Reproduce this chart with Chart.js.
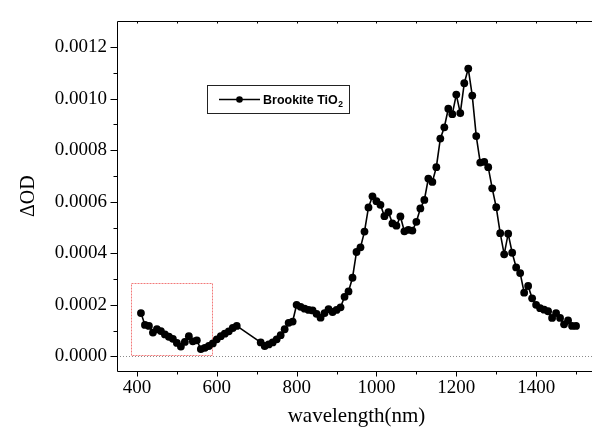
<!DOCTYPE html>
<html>
<head>
<meta charset="utf-8">
<script src="https://cdn.jsdelivr.net/npm/chart.js@4.4.1/dist/chart.umd.min.js"></script>
<style>
  html, body { margin: 0; padding: 0; background: #fff; overflow: hidden; }
  canvas { display: block; }
</style>
</head>
<body>
<canvas id="chart" width="600" height="439"></canvas>
<script>
// Transient absorption of brookite TiO2: wavelength (nm) vs. ΔOD
const wavelengths = [
  410, 420, 430, 440, 450, 460, 470, 480, 490, 500,
  510, 520, 530, 540, 550, 560, 570, 580, 590, 600,
  610, 620, 630, 640, 650,
  710, 720, 730, 740, 750, 760, 770, 780, 790, 800,
  810, 820, 830, 840, 850, 860, 870, 880, 890, 900,
  910, 920, 930, 940, 950, 960, 970, 980, 990, 1000,
  1010, 1020, 1030, 1040, 1050, 1060, 1070, 1080, 1090, 1100,
  1110, 1120, 1130, 1140, 1150, 1160, 1170, 1180, 1190, 1200,
  1210, 1220, 1230, 1240, 1250, 1260, 1270, 1280, 1290, 1300,
  1310, 1320, 1330, 1340, 1350, 1360, 1370, 1380, 1390, 1400,
  1410, 1420, 1430, 1440, 1450, 1460, 1470, 1480, 1490, 1500
];
const deltaOD = [
  0.000168, 0.000122, 0.000118, 0.000092, 0.000105, 0.000098, 0.000085, 0.000076, 0.000068, 0.000052,
  0.000038, 0.000056, 0.000078, 0.000058, 0.000062, 0.000028, 0.000033, 0.000040, 0.000050, 0.000066,
  0.000078, 0.000088, 0.000097, 0.000110, 0.000118,
  0.000054, 0.000040, 0.000046, 0.000054, 0.000066, 0.000082, 0.000105, 0.000130, 0.000135, 0.000200,
  0.000192, 0.000185, 0.000180, 0.000178, 0.000165, 0.000150, 0.000168, 0.000183, 0.000172, 0.000180,
  0.000190, 0.000231, 0.000252, 0.000305, 0.000405, 0.000423, 0.000484, 0.000578, 0.000621, 0.000602,
  0.000588, 0.000544, 0.000560, 0.000516, 0.000507, 0.000543, 0.000485, 0.000491, 0.000488, 0.000522,
  0.000574, 0.000607, 0.000690, 0.000677, 0.000734, 0.000845, 0.000889, 0.000961, 0.000940, 0.001016,
  0.000944, 0.001060, 0.001117, 0.001012, 0.000855, 0.000752, 0.000755, 0.000734, 0.000652, 0.000579,
  0.000478, 0.000396, 0.000476, 0.000402, 0.000345, 0.000323, 0.000247, 0.000273, 0.000225, 0.000200,
  0.000187, 0.000181, 0.000175, 0.000149, 0.000168, 0.000149, 0.000124, 0.000139, 0.000118, 0.000118
];

const xMajorTicks = [400, 600, 800, 1000, 1200, 1400];
const xMinorTicks = [500, 700, 900, 1100, 1300, 1500];
const yMajorTicks = [0, 0.0002, 0.0004, 0.0006, 0.0008, 0.0010, 0.0012];
const yMinorTicks = [0.0001, 0.0003, 0.0005, 0.0007, 0.0009, 0.0011];

const seriesName = 'Brookite TiO';
const seriesSubscript = '2';
const xTitle = 'wavelength(nm)';
const yTitle = '\u0394OD';

// Highlighted low-wavelength region (data coordinates)
const regionX = [386, 590];
const regionY = [0.0000065, 0.000285];

const SERIF = '"Liberation Serif", "Times New Roman", serif';
const SANS = '"Liberation Sans", Arial, sans-serif';

const framePlugin = {
  id: 'frame',
  beforeDatasetsDraw(chart) {
    const { ctx, chartArea: a, scales: { x, y } } = chart;
    ctx.save();
    // dotted zero baseline
    const y0 = Math.round(y.getPixelForValue(0)) + 0.5;
    ctx.strokeStyle = '#8a8a8a';
    ctx.lineWidth = 1;
    ctx.setLineDash([1, 2]);
    ctx.beginPath();
    ctx.moveTo(a.left, y0);
    ctx.lineTo(a.right, y0);
    ctx.stroke();
    // dotted red box around the visible-range data
    const rx0 = x.getPixelForValue(regionX[0]), rx1 = x.getPixelForValue(regionX[1]);
    const ry0 = y.getPixelForValue(regionY[0]), ry1 = y.getPixelForValue(regionY[1]);
    ctx.strokeStyle = '#f27a7a';
    ctx.setLineDash([2, 1]);
    ctx.strokeRect(Math.round(rx0) + 0.5, Math.round(ry1) + 0.5,
                   Math.round(rx1 - rx0), Math.round(ry0 - ry1));
    ctx.restore();
  },
  afterDraw(chart) {
    const { ctx, chartArea: a, scales: { x, y } } = chart;
    ctx.save();
    ctx.strokeStyle = '#000';
    ctx.lineWidth = 1;
    ctx.setLineDash([]);
    const L = Math.round(a.left) + 0.5, T = Math.round(a.top) + 0.5;
    const B = Math.round(a.bottom) + 0.5, R = Math.round(a.right) + 0.5;
    ctx.beginPath();
    ctx.moveTo(L, T); ctx.lineTo(R, T); ctx.lineTo(R, B); ctx.lineTo(L, B); ctx.closePath();
    ctx.stroke();
    ctx.beginPath();
    xMajorTicks.forEach(v => { const p = Math.round(x.getPixelForValue(v)) + 0.5;
      ctx.moveTo(p, B); ctx.lineTo(p, B + 5); ctx.moveTo(p, T); ctx.lineTo(p, T + 2); });
    xMinorTicks.forEach(v => { const p = Math.round(x.getPixelForValue(v)) + 0.5;
      ctx.moveTo(p, B); ctx.lineTo(p, B + 3); ctx.moveTo(p, T); ctx.lineTo(p, T + 2); });
    yMajorTicks.forEach(v => { const p = Math.round(y.getPixelForValue(v)) + 0.5;
      ctx.moveTo(L - 7, p); ctx.lineTo(L, p); });
    yMinorTicks.forEach(v => { const p = Math.round(y.getPixelForValue(v)) + 0.5;
      ctx.moveTo(L - 4, p); ctx.lineTo(L, p); });
    ctx.stroke();

    // legend box
    const bx = 207.5, by = 85.5, bw = 142, bh = 28;
    ctx.strokeStyle = '#222';
    ctx.strokeRect(bx, by, bw, bh);
    const ly = 99.5;
    ctx.strokeStyle = '#000';
    ctx.lineWidth = 1.5;
    ctx.beginPath(); ctx.moveTo(219, ly); ctx.lineTo(260, ly); ctx.stroke();
    ctx.fillStyle = '#000';
    ctx.beginPath(); ctx.arc(239.5, ly, 3.3, 0, Math.PI * 2); ctx.fill();
    ctx.font = 'bold 12.5px ' + SANS;
    ctx.textBaseline = 'alphabetic';
    ctx.textAlign = 'left';
    ctx.fillText(seriesName, 263, 104);
    const w = ctx.measureText(seriesName).width;
    ctx.font = 'bold 8.5px ' + SANS;
    ctx.fillText(seriesSubscript, 263 + w + 0.5, 107);
    ctx.restore();
  }
};

new Chart(document.getElementById('chart'), {
  type: 'line',
  data: {
    datasets: [{
      label: seriesName + seriesSubscript,
      data: wavelengths.map((w, i) => ({ x: w, y: deltaOD[i] })),
      borderColor: '#000',
      borderWidth: 1.6,
      pointRadius: 3.9,
      pointBackgroundColor: '#000',
      pointBorderWidth: 0,
      tension: 0,
      fill: false
    }]
  },
  options: {
    responsive: false,
    animation: false,
    events: [],
    layout: { padding: { top: 14, right: 3, left: 0, bottom: 0 } },
    plugins: { legend: { display: false }, tooltip: { enabled: false } },
    scales: {
      x: {
        type: 'linear',
        min: 350,
        max: 1550,
        afterBuildTicks: s => { s.ticks = xMajorTicks.map(v => ({ value: v })); },
        afterFit: s => { s.height = 68; },
        grid: { display: false, drawTicks: false, tickLength: 0 },
        border: { display: false },
        ticks: {
          color: '#000', padding: 6, maxRotation: 0, autoSkip: false,
          font: { family: SERIF, size: 19 },
          callback: v => String(v)
        },
        title: {
          display: true, text: xTitle, color: '#000',
          font: { family: SERIF, size: 21 },
          padding: { top: 0, bottom: 10 }
        }
      },
      y: {
        min: -0.000057,
        max: 0.0013,
        afterBuildTicks: s => { s.ticks = yMajorTicks.map(v => ({ value: v })); },
        afterFit: s => { s.width = 117; },
        grid: { display: false, drawTicks: false, tickLength: 0 },
        border: { display: false },
        ticks: {
          color: '#000', padding: 10, autoSkip: false,
          font: { family: SERIF, size: 19 },
          callback: v => Number(v).toFixed(4)
        },
        title: {
          display: true, text: yTitle, color: '#000',
          font: { family: SERIF, size: 20 },
          padding: { top: 17, bottom: 0 }
        }
      }
    }
  },
  plugins: [framePlugin]
});
</script>
</body>
</html>
